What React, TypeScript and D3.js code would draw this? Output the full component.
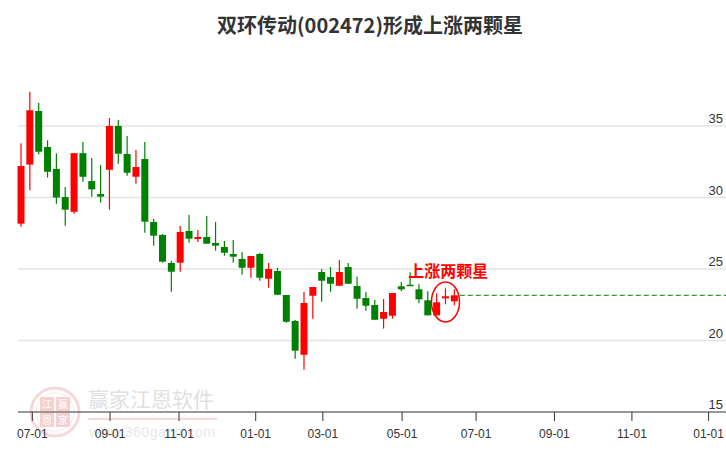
import * as d3 from 'd3';

// weekly candles (price in CNY)
const opens = [
  28.17, 32.3, 36.05, 33.53, 32.0, 30.03, 29.0, 33.1, 31.15, 30.24,
  31.94, 35.0, 33.04, 31.45, 32.69, 28.29, 27.38, 25.42, 25.44, 27.66,
  27.1, 27.24, 26.82, 26.54, 26.05, 25.7, 25.09, 26.05, 24.32, 24.86,
  23.18, 21.36, 19.0, 23.13, 24.79, 24.44, 23.83, 25.14, 23.81, 22.97,
  22.48, 21.52, 21.73, 23.79, 23.9, 23.58, 22.81, 21.76, 22.95, 22.74,
];
const closes = [
  32.2, 36.1, 33.2, 31.8, 30.0, 29.15, 33.1, 31.45, 30.57, 30.06,
  35.0, 33.06, 31.73, 32.13, 28.31, 27.33, 25.51, 24.81, 27.59, 27.12,
  27.24, 26.77, 26.63, 26.14, 25.86, 25.09, 25.91, 24.39, 25.0, 23.2,
  21.31, 19.29, 22.62, 23.74, 24.18, 23.97, 24.79, 23.97, 22.92, 22.43,
  21.45, 21.99, 23.32, 23.58, 23.81, 22.88, 21.76, 22.67, 23.09, 23.16,
];
const highs = [
  33.8, 37.4, 36.6, 34.0, 33.1, 30.73, 33.1, 33.88, 32.76, 32.27,
  35.56, 35.42, 34.3, 33.32, 33.88, 28.5, 27.45, 25.56, 28.0, 28.78,
  27.73, 28.7, 28.29, 26.96, 27.03, 26.19, 25.91, 26.12, 25.42, 25.07,
  23.18, 21.43, 23.39, 23.74, 25.0, 25.14, 25.63, 25.42, 24.46, 23.39,
  22.83, 22.9, 23.32, 24.09, 24.77, 23.93, 23.44, 23.3, 23.65, 23.58,
];
const lows = [
  27.96, 30.5, 33.0, 31.4, 29.57, 28.03, 28.87, 31.1, 30.06, 29.64,
  29.15, 32.36, 31.52, 30.97, 27.54, 26.63, 25.45, 23.41, 24.81, 26.84,
  26.89, 26.77, 26.28, 25.93, 25.44, 24.6, 24.39, 24.18, 23.69, 23.2,
  21.24, 18.73, 17.96, 21.52, 22.71, 23.41, 23.83, 23.97, 22.22, 22.08,
  21.45, 20.83, 21.52, 23.44, 23.81, 22.6, 21.76, 21.76, 22.53, 22.46,
];

// x tick labels and their place on the week index axis
const xTickLabels = ['07-01', '09-01', '11-01', '01-01', '03-01', '05-01', '07-01', '09-01', '11-01', '01-01'];
const xTickIndex = [1.28, 10.07, 17.87, 26.54, 34.13, 43.09, 51.46, 60.32, 69.08, 77.75];
const yTicks = [15, 20, 25, 30, 35];

const title = '双环传动(002472)形成上涨两颗星';
const signalText = '上涨两颗星';
const signalIndex = 48; // candle the circle is centred on
const signalValue = 22.7;

const W = 726;
const H = 450;
const RED = '#ff0000';
const GREEN = '#008000';

export default function App() {
  const left = 18;
  const axisY = 412;

  const x = d3.scaleLinear().domain([-0.34, 79.72]).range([left, W]);
  const y = d3.scaleLinear().domain([15, 35]).range([axisY, 126]);

  const bodyW = 7;
  const lastClose = closes[closes.length - 1];
  const lastX = x(closes.length - 1);

  return (
    <svg
      width={W}
      height={H}
      style={{ position: 'absolute', left: 0, top: 0, background: '#fff' }}
      fontFamily="'Liberation Sans', Arial, sans-serif"
    >
      {/* watermark */}
      <g opacity={0.55}>
        <circle cx={55} cy={412} r={24} fill="none" stroke="#f2b9b9" strokeWidth={3} />
        <circle cx={55} cy={412} r={19} fill="none" stroke="#f7d5d5" strokeWidth={1} />
        {[
          ['江', -15, -15],
          ['赢', 1, -15],
          ['恩', -15, 1],
          ['家', 1, 1],
        ].map(([t, dx, dy], i) => (
          <g key={i}>
            <rect x={55 + (dx as number)} y={412 + (dy as number)} width={14} height={14} fill="#f0a9a9" />
            <text
              x={55 + (dx as number) + 7}
              y={412 + (dy as number) + 11}
              textAnchor="middle"
              fontSize={10}
              fill="#fff"
              fontFamily="'Noto Sans CJK SC', sans-serif"
            >
              {t}
            </text>
          </g>
        ))}
        <text x={88} y={407} fontSize={21} fill="#c8c8c8" fontFamily="'Noto Sans CJK SC', sans-serif">
          赢家江恩软件
        </text>
        <line x1={88} x2={217} y1={419} y2={419} stroke="#f2b9b9" strokeWidth={2} />
        <text x={89} y={437} fontSize={14} fill="#d6d6d6" fontFamily="'Liberation Sans', Arial, sans-serif" textLength={126}>
          www.360gann.com
        </text>
      </g>

      {/* title */}
      <text
        x={370}
        y={33}
        textAnchor="middle"
        fontSize={20}
        fontWeight="bold"
        fill="#333"
        fontFamily="'Noto Sans CJK SC', sans-serif"
      >
        {title}
      </text>

      {/* grid + y labels */}
      {yTicks.map((v) => (
        <g key={v}>
          {v !== 15 && <line x1={left} x2={W} y1={y(v)} y2={y(v)} stroke="#e3e3e3" strokeWidth={1.5} />}
          <text x={723} y={y(v) - 3} textAnchor="end" fontSize={13} fill="#333">
            {v}
          </text>
        </g>
      ))}

      {/* x axis */}
      <line x1={left} x2={W} y1={axisY} y2={axisY} stroke="#333" strokeWidth={1.2} />
      {xTickIndex.map((d, i) => (
        <g key={i}>
          <line x1={x(d)} x2={x(d)} y1={axisY} y2={axisY + 9} stroke="#333" strokeWidth={1} />
          <text x={x(d)} y={438} textAnchor="middle" fontSize={12} fill="#333">
            {xTickLabels[i]}
          </text>
        </g>
      ))}

      {/* candles */}
      {opens.map((o, i) => {
        const c = closes[i];
        const col = c >= o ? RED : GREEN;
        const cx = x(i);
        const top = y(Math.max(o, c));
        const h = Math.max(1.5, Math.abs(y(o) - y(c)));
        return (
          <g key={i}>
            <line x1={cx} x2={cx} y1={y(highs[i])} y2={y(lows[i])} stroke={col} strokeWidth={1.2} />
            <rect x={cx - bodyW / 2} y={top} width={bodyW} height={h} fill={col} />
          </g>
        );
      })}

      {/* last close dashed line */}
      <line
        x1={lastX + bodyW / 2 + 2}
        x2={W}
        y1={y(lastClose)}
        y2={y(lastClose)}
        stroke={GREEN}
        strokeWidth={1}
        strokeDasharray="5,3"
      />

      {/* signal mark */}
      <ellipse
        cx={x(signalIndex)}
        cy={y(signalValue)}
        rx={14}
        ry={20}
        fill="none"
        stroke={RED}
        strokeWidth={1.5}
      />
      <text
        x={x(43.8)}
        y={y(24.42)}
        fontSize={16}
        fontWeight="bold"
        fill={RED}
        fontFamily="'Noto Sans CJK SC', sans-serif"
      >
        {signalText}
      </text>
    </svg>
  );
}
